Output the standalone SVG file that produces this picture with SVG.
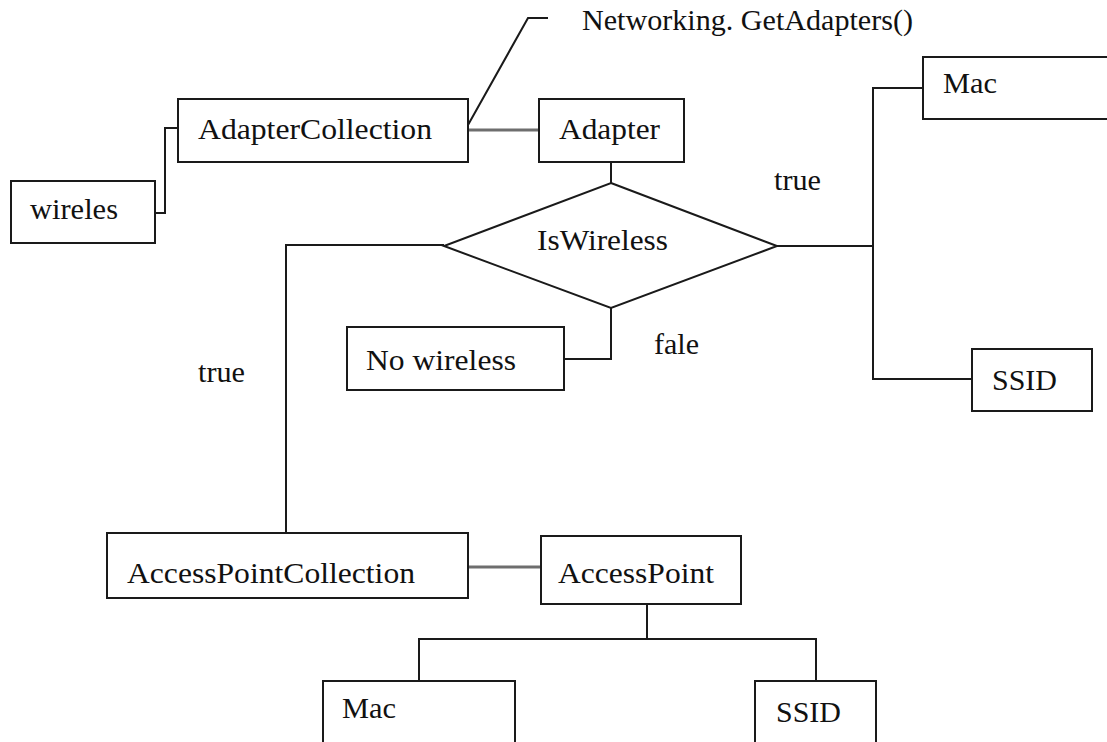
<svg xmlns="http://www.w3.org/2000/svg" width="1107" height="742" viewBox="0 0 1107 742">
  <style>
    .box { fill: #ffffff; stroke: #1a1a1a; stroke-width: 2; }
    .link { fill: none; stroke: #1a1a1a; stroke-width: 2; }
    .soft { fill: none; stroke: #6e6e6e; stroke-width: 3; }
    .lbl { font-family: "Liberation Serif", "Times New Roman", serif; font-size: 29px; fill: #111111; }
  </style>
  <rect width="1107" height="742" fill="#ffffff"/>

  <!-- connectors -->
  <g id="connectors">
    <polyline class="link" points="155,213 165,213 165,128 178,128"/>
    <line class="soft" x1="468" y1="130" x2="539" y2="130"/>
    <polyline class="link" points="468,125 528,18 548,18"/>
    <line class="link" x1="611" y1="162" x2="611" y2="183"/>
    <line class="link" x1="777" y1="246" x2="873" y2="246"/>
    <polyline class="link" points="923,88 873,88 873,379 972,379"/>
    <polyline class="link" points="444,245 286,245 286,533"/>
    <polyline class="link" points="611,308 611,359 564,359"/>
    <line class="soft" x1="468" y1="567" x2="541" y2="567"/>
    <line class="link" x1="647" y1="604" x2="647" y2="639"/>
    <polyline class="link" points="419,681 419,639 816,639 816,681"/>
    <text class="lbl" x="582" y="30" textLength="331" lengthAdjust="spacingAndGlyphs">Networking. GetAdapters()</text>
    <text class="lbl" x="774" y="190" textLength="47" lengthAdjust="spacingAndGlyphs">true</text>
    <text class="lbl" x="198" y="382" textLength="47" lengthAdjust="spacingAndGlyphs">true</text>
    <text class="lbl" x="654" y="354" textLength="45" lengthAdjust="spacingAndGlyphs">fale</text>
  </g>

  <g id="wireles">
    <rect class="box" x="11" y="181" width="144" height="62"/>
    <text class="lbl" x="30" y="219" textLength="88" lengthAdjust="spacingAndGlyphs">wireles</text>
  </g>

  <g id="adapter-collection">
    <rect class="box" x="178" y="99" width="290" height="63"/>
    <text class="lbl" x="198" y="139" textLength="234" lengthAdjust="spacingAndGlyphs">AdapterCollection</text>
  </g>

  <g id="adapter">
    <rect class="box" x="539" y="99" width="145" height="63"/>
    <text class="lbl" x="559" y="139" textLength="101" lengthAdjust="spacingAndGlyphs">Adapter</text>
  </g>

  <g id="is-wireless">
    <polygon class="box" points="611,183 777,246 611,308 444,246"/>
    <text class="lbl" x="537" y="250" textLength="131" lengthAdjust="spacingAndGlyphs">IsWireless</text>
  </g>

  <g id="adapter-mac">
    <rect class="box" x="923" y="57" width="200" height="62"/>
    <text class="lbl" x="943" y="93" textLength="54" lengthAdjust="spacingAndGlyphs">Mac</text>
  </g>

  <g id="adapter-ssid">
    <rect class="box" x="972" y="349" width="120" height="62"/>
    <text class="lbl" x="992" y="390" textLength="65" lengthAdjust="spacingAndGlyphs">SSID</text>
  </g>

  <g id="no-wireless">
    <rect class="box" x="347" y="327" width="217" height="63"/>
    <text class="lbl" x="366" y="370" textLength="150" lengthAdjust="spacingAndGlyphs">No wireless</text>
  </g>

  <g id="access-point-collection">
    <rect class="box" x="107" y="533" width="361" height="65"/>
    <text class="lbl" x="127" y="583" textLength="288" lengthAdjust="spacingAndGlyphs">AccessPointCollection</text>
  </g>

  <g id="access-point">
    <rect class="box" x="541" y="536" width="200" height="68"/>
    <text class="lbl" x="558" y="583" textLength="156" lengthAdjust="spacingAndGlyphs">AccessPoint</text>
  </g>

  <g id="access-point-mac">
    <rect class="box" x="323" y="681" width="192" height="80"/>
    <text class="lbl" x="342" y="718" textLength="54" lengthAdjust="spacingAndGlyphs">Mac</text>
  </g>

  <g id="access-point-ssid">
    <rect class="box" x="755" y="681" width="121" height="80"/>
    <text class="lbl" x="776" y="722" textLength="65" lengthAdjust="spacingAndGlyphs">SSID</text>
  </g>
</svg>
